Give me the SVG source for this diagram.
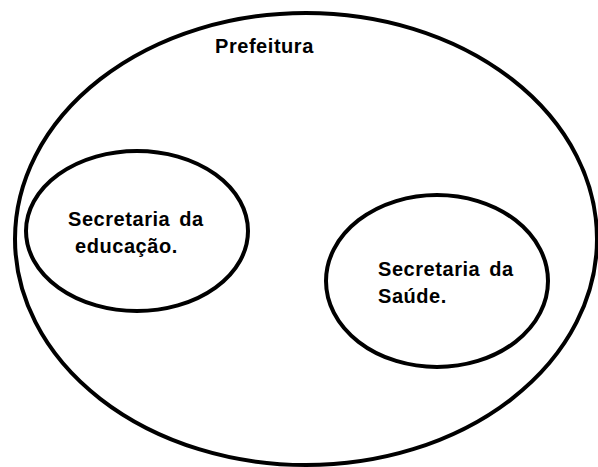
<svg xmlns="http://www.w3.org/2000/svg" width="598" height="467" viewBox="0 0 598 467">
<style>
.shape{fill:none;stroke:#000;stroke-width:4}
.lbl{font-family:"Liberation Sans",Arial,sans-serif;font-weight:bold;font-size:20px;fill:#000;letter-spacing:0.55px;word-spacing:3px}
</style>
<rect width="598" height="467" fill="#fff"/>
<g id="prefeitura">
<ellipse class="shape" cx="306" cy="239" rx="291" ry="226"/>
<text class="lbl" x="215" y="53">Prefeitura</text>
</g>
<g id="educacao">
<ellipse class="shape" cx="137" cy="231" rx="111" ry="80"/>
<text class="lbl" x="68" y="226">Secretaria da</text>
<text class="lbl" x="75" y="253">educação.</text>
</g>
<g id="saude">
<ellipse class="shape" cx="437" cy="281" rx="111" ry="86"/>
<text class="lbl" x="378" y="276">Secretaria da</text>
<text class="lbl" x="378" y="303">Saúde.</text>
</g>
<g id="connectors"></g>
</svg>
